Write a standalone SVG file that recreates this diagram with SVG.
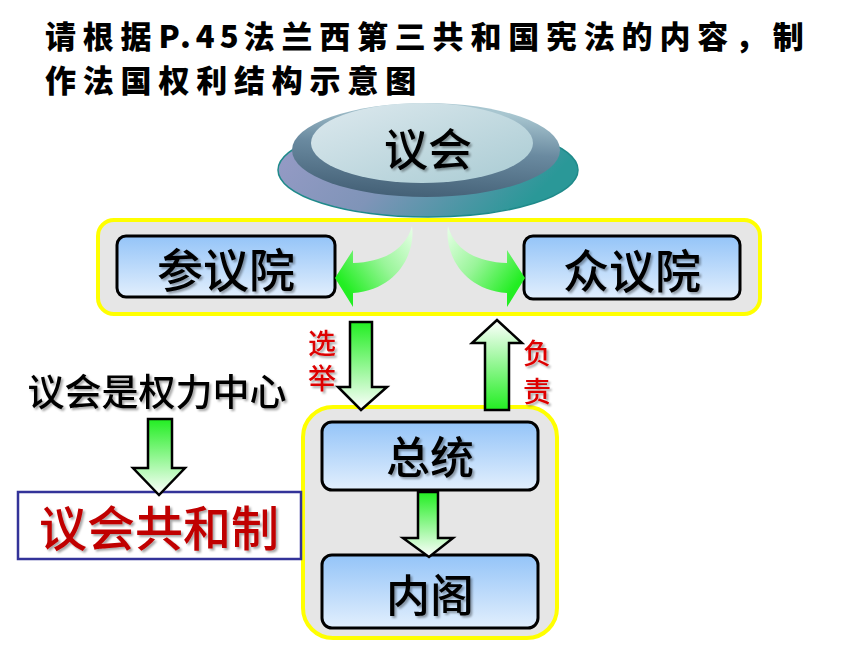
<svg xmlns="http://www.w3.org/2000/svg" width="860" height="645" viewBox="0 0 860 645">
<defs>
<style>
.title{font-family:"Noto Sans CJK SC","Noto Sans",sans-serif;font-weight:900;font-size:31px;fill:#000;letter-spacing:6.8px}
.lbl{font-family:"Noto Sans CJK SC","Noto Sans",sans-serif;font-weight:500;fill:#000;text-anchor:middle}
.red{font-family:"Noto Sans CJK SC","Noto Sans",sans-serif;font-weight:500;fill:#dd0000;font-size:28px;writing-mode:vertical-rl}
.band{fill:#e6e6e6;stroke:#ffff00;stroke-width:4}
.box{fill:url(#boxg);stroke:#000;stroke-width:3}
.varr{stroke:#000;stroke-width:2.5;stroke-linejoin:miter}
</style>
<linearGradient id="boxg" x1="0" y1="0" x2="0" y2="1">
<stop offset="0" stop-color="#94c4f8"/>
<stop offset="1" stop-color="#e2effd"/>
</linearGradient>
<linearGradient id="gdown" x1="0" y1="0" x2="0" y2="1">
<stop offset="0" stop-color="#22ee22"/>
<stop offset="1" stop-color="#ffffff"/>
</linearGradient>
<linearGradient id="gup" x1="0" y1="0" x2="0" y2="1">
<stop offset="0" stop-color="#ffffff"/>
<stop offset="1" stop-color="#22ee22"/>
</linearGradient>
<linearGradient id="gcurve" gradientUnits="userSpaceOnUse" x1="412" y1="226" x2="340" y2="280">
<stop offset="0" stop-color="#e8ffe8"/>
<stop offset="0.5" stop-color="#99f599"/>
<stop offset="1" stop-color="#22ee22"/>
</linearGradient>
<linearGradient id="plate" x1="0" y1="0" x2="1" y2="0.3">
<stop offset="0" stop-color="#9a9cc8"/>
<stop offset="0.5" stop-color="#7f94b8"/>
<stop offset="1" stop-color="#2a9898"/>
</linearGradient>
<linearGradient id="ring" x1="0" y1="1" x2="0.2" y2="0">
<stop offset="0" stop-color="#3e5a70"/>
<stop offset="0.6" stop-color="#6a8aa0"/>
<stop offset="1" stop-color="#a8c6d0"/>
</linearGradient>
<linearGradient id="inner" x1="0" y1="0" x2="1" y2="1">
<stop offset="0" stop-color="#dde9ee"/>
<stop offset="1" stop-color="#a9cbd3"/>
</linearGradient>
<filter id="sh" x="-10%" y="-10%" width="130%" height="140%">
<feDropShadow dx="2" dy="2" stdDeviation="1" flood-color="#000" flood-opacity="0.35"/>
</filter>
</defs>

<g id="title">
<text class="title" x="45" y="48">请根据<tspan style="letter-spacing:5px">P.45</tspan>法兰西第三共和国宪法的内容，制</text>
<text class="title" x="45" y="92">作法国权利结构示意图</text>
</g>

<g id="parliament">
<ellipse cx="428" cy="170" rx="150" ry="47" fill="url(#plate)" stroke="#1f8a8a" stroke-width="1.5"/>
<ellipse cx="426" cy="150" rx="134" ry="47" fill="url(#ring)"/>
<ellipse cx="422" cy="143" rx="111" ry="40" fill="url(#inner)"/>
<text class="lbl" x="428" y="166" font-size="44" filter="url(#sh)">议会</text>
</g>

<g id="chambers-band">
<rect class="band" x="98" y="220" width="662" height="94" rx="16"/>
</g>

<g id="senate">
<rect class="box" x="117" y="236" width="218" height="61" rx="9"/>
<text class="lbl" x="226" y="287" font-size="46" filter="url(#sh)">参议院</text>
</g>

<g id="deputies">
<rect class="box" x="524" y="236" width="216" height="63" rx="9"/>
<text class="lbl" x="632" y="288" font-size="46" filter="url(#sh)">众议院</text>
</g>

<g id="exec-band">
<rect class="band" x="303" y="407" width="254" height="231" rx="30"/>
</g>

<g id="president">
<rect class="box" x="322" y="422" width="216" height="68" rx="10"/>
<text class="lbl" x="430" y="474" font-size="44" filter="url(#sh)">总统</text>
</g>

<g id="cabinet">
<rect class="box" x="322" y="555" width="216" height="73" rx="10"/>
<text class="lbl" x="430" y="612" font-size="44" filter="url(#sh)">内阁</text>
</g>

<g id="center-label">
<text class="lbl" x="157" y="406" font-size="37" font-weight="700" filter="url(#sh)">议会是权力中心</text>
</g>

<g id="republic">
<rect x="18" y="492" width="283" height="67" fill="#fff" stroke="#333399" stroke-width="2.5"/>
<text class="lbl" x="159" y="546" font-size="48" font-weight="700" style="fill:#c00000" filter="url(#sh)">议会共和制</text>
</g>

<g id="connectors">
<path d="M412,226 C416,252 398,290 353,293 L353,307 L335,278 L353,250 L353,263 C386,262 406,248 412,226 Z" fill="url(#gcurve)"/>
<path d="M412,226 C416,252 398,290 353,293 L353,307 L335,278 L353,250 L353,263 C386,262 406,248 412,226 Z" fill="url(#gcurve)" transform="translate(860,0) scale(-1,1)"/>
<path class="varr" d="M350,322 L372,322 L372,387 L387,387 L361,410 L338,387 L350,387 Z" fill="url(#gdown)"/>
<path class="varr" d="M485,410 L509,410 L509,343 L522,343 L497,320 L472,343 L485,343 Z" fill="url(#gup)"/>
<path class="varr" d="M418,492 L438,492 L438,538 L453,538 L429,557 L403,538 L418,538 Z" fill="url(#gdown)"/>
<path class="varr" d="M148,419 L172,419 L172,468 L185,468 L159,495 L133,468 L148,468 Z" fill="url(#gdown)"/>
<text class="red" x="322" y="329" letter-spacing="7" filter="url(#sh)">选举</text>
<text class="red" x="537" y="339" letter-spacing="10" filter="url(#sh)">负责</text>
</g>
</svg>
